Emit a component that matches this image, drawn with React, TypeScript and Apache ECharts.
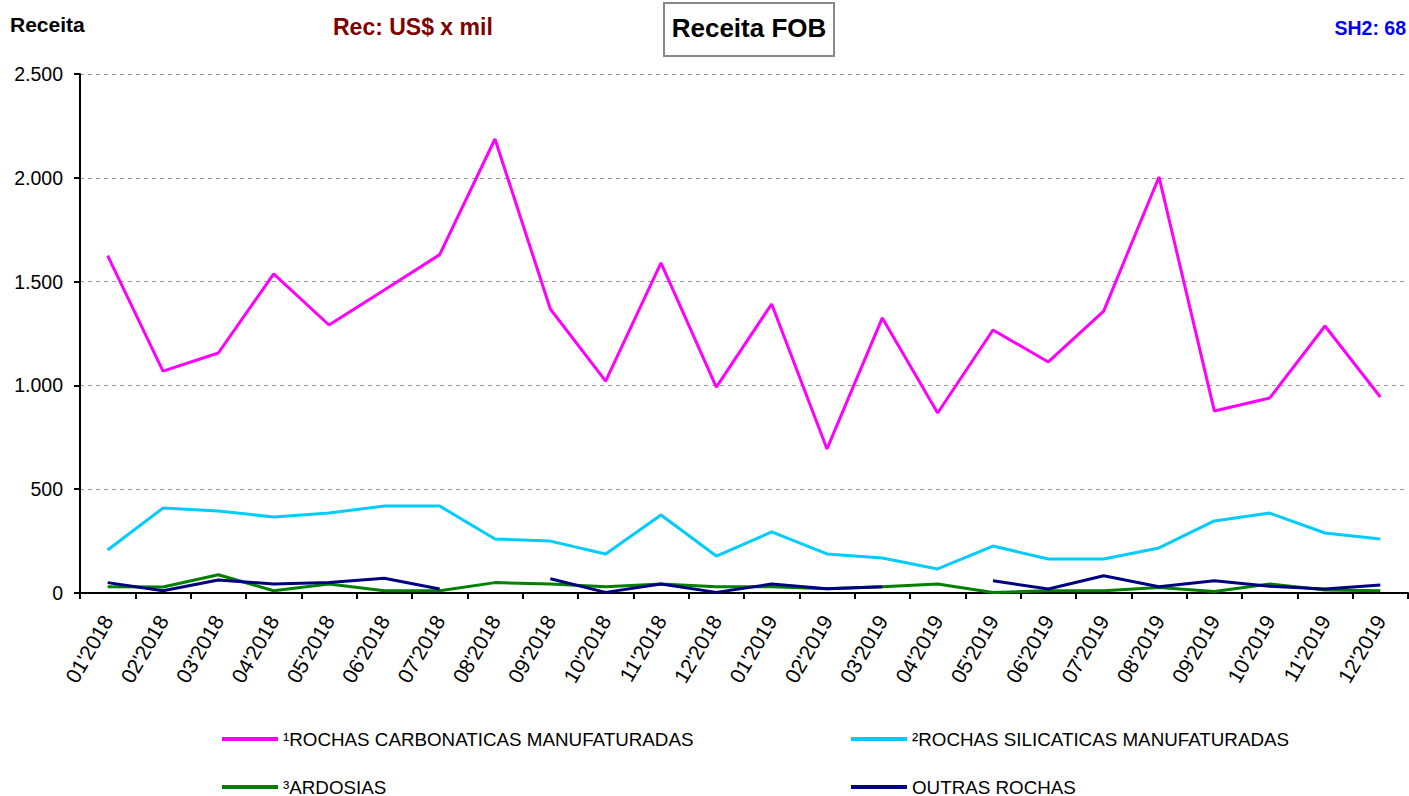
import React, { useEffect, useRef } from "react";
import * as echarts from "echarts";

const categories = [
  "01'2018", "02'2018", "03'2018", "04'2018", "05'2018", "06'2018",
  "07'2018", "08'2018", "09'2018", "10'2018", "11'2018", "12'2018",
  "01'2019", "02'2019", "03'2019", "04'2019", "05'2019", "06'2019",
  "07'2019", "08'2019", "09'2019", "10'2019", "11'2019", "12'2019",
];

const carbonaticas = [1625, 1069, 1156, 1537, 1291, 1460, 1630, 2187, 1368, 1021, 1590, 992, 1392, 694, 1325, 867, 1267, 1113, 1358, 2004, 877, 939, 1286, 944];
const silicaticas = [207, 409, 395, 366, 385, 419, 419, 260, 250, 188, 376, 178, 294, 188, 169, 116, 226, 164, 164, 217, 347, 385, 289, 260];
const ardosias = [30, 29, 88, 11, 43, 11, 11, 50, 43, 30, 43, 30, 30, 20, 30, 43, 2, 11, 11, 27, 7, 43, 14, 11];
const outras = [50, 11, 63, 43, 50, 71, 19, null, 69, 3, 43, 3, 43, 20, 30, null, 59, 19, 83, 30, 59, 32, 19, 39];

const seriesNames = [
  "¹ROCHAS CARBONATICAS MANUFATURADAS",
  "²ROCHAS SILICATICAS MANUFATURADAS",
  "³ARDOSIAS",
  "OUTRAS ROCHAS",
];
const yTicks = [0, 500, 1000, 1500, 2000, 2500];

const FONT = "'Liberation Sans', Arial, sans-serif";

export default function App() {
  const ref = useRef<HTMLDivElement>(null);
  useEffect(() => {
    if (!ref.current) return;
    const chart = echarts.init(ref.current, undefined, { renderer: "svg" });
    const fmt = (v: number) =>
      v.toString().replace(/\B(?=(\d{3})+(?!\d))/g, ".");
    const colors = ["#FF00FF", "#00CCFF", "#008000", "#000080"];
    const datas = [carbonaticas, silicaticas, ardosias, outras];
    const legendPos = [
      { left: 222, top: 729 },
      { left: 851, top: 729 },
      { left: 222, top: 777 },
      { left: 851, top: 777 },
    ];
    chart.setOption({
      animation: false,
      backgroundColor: "#ffffff",
      textStyle: { fontFamily: FONT },
      grid: { left: 80, right: 1, top: 74, bottom: 203, containLabel: false },
      legend: seriesNames.map((n, i) => ({
        data: [n],
        left: legendPos[i].left,
        top: legendPos[i].top,
        padding: 0,
        itemWidth: 56,
        itemHeight: 4,
        icon: "rect",
        textStyle: { fontSize: 18.8, color: "#000", fontFamily: FONT, lineHeight: 20 },
      })),
      xAxis: {
        type: "category",
        data: categories,
        boundaryGap: true,
        axisLine: { show: true, lineStyle: { color: "#000", width: 2 } },
        axisTick: { show: true, length: 6, lineStyle: { color: "#000", width: 2 } },
        axisLabel: {
          rotate: 60,
          fontSize: 21,
          color: "#000",
          margin: 24,
          fontFamily: FONT,
          interval: 0,
        },
        splitLine: { show: false },
      },
      yAxis: {
        type: "value",
        min: yTicks[0],
        max: yTicks[yTicks.length - 1],
        interval: 500,
        axisLine: { show: true, lineStyle: { color: "#000", width: 2 } },
        axisTick: { show: true, length: 6, lineStyle: { color: "#000", width: 2 } },
        axisLabel: {
          fontSize: 19.5,
          color: "#000",
          margin: 17,
          fontFamily: FONT,
          formatter: (v: number) => fmt(v),
        },
        splitLine: {
          show: true,
          lineStyle: { color: "#999", type: [4, 4], width: 1 },
        },
      },
      series: datas.map((d, i) => ({
        name: seriesNames[i],
        type: "line",
        data: d,
        symbol: "none",
        connectNulls: false,
        lineStyle: { color: colors[i], width: 3 },
        itemStyle: { color: colors[i] },
        z: 2 + i,
      })),
      graphic: [
        {
          type: "text",
          x: 10,
          y: 24,
          style: { text: "Receita", font: `bold 21px ${FONT}`, fill: "#000", verticalAlign: "middle" },
        },
        {
          type: "text",
          x: 333,
          y: 27,
          style: { text: "Rec: US$ x mil", font: `bold 23px ${FONT}`, fill: "#800000", verticalAlign: "middle" },
        },
        {
          type: "rect",
          shape: { x: 664, y: 3, width: 170, height: 53 },
          style: { fill: "#fff", stroke: "#888", lineWidth: 2 },
        },
        {
          type: "text",
          x: 749,
          y: 28,
          style: {
            text: "Receita FOB",
            font: `bold 26px ${FONT}`,
            fill: "#000",
            align: "center",
            verticalAlign: "middle",
          },
        },
        {
          type: "text",
          x: 1406,
          y: 28,
          style: {
            text: "SH2: 68",
            font: `bold 19.5px ${FONT}`,
            fill: "#0000FF",
            align: "right",
            verticalAlign: "middle",
          },
        },
      ],
    });
    return () => chart.dispose();
  }, []);
  return (
    <div
      ref={ref}
      style={{ position: "fixed", left: 0, top: 0, width: 1409, height: 796 }}
    />
  );
}
